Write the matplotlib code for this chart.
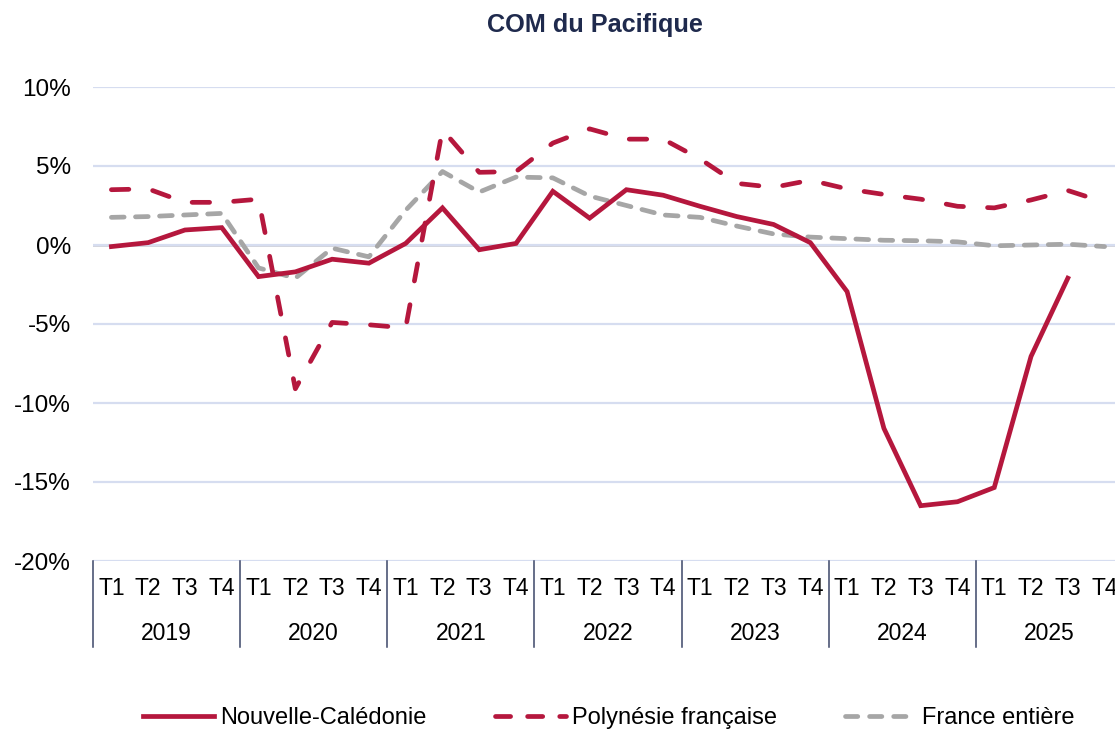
import numpy as np
import matplotlib.pyplot as plt
from matplotlib.lines import Line2D

plt.rcParams['font.family'] = ['Liberation Sans', 'DejaVu Sans']

''' Data '''
years = ['2019', '2020', '2021', '2022', '2023', '2024', '2025']
quarters = ['T1', 'T2', 'T3', 'T4']

nouvelle_caledonie = [
    -0.1, 0.15, 0.95, 1.1,
    -2.0, -1.7, -0.9, -1.15,
    0.1, 2.35, -0.3, 0.1,
    3.4, 1.7, 3.5, 3.15,
    2.45, 1.8, 1.3, 0.15,
    -2.95, -11.6, -16.5, -16.25,
    -15.35, -7.05, -2.1, np.nan]

polynesie = [
    3.5, 3.55, 2.7, 2.7,
    2.9, -9.1, -4.9, -5.05,
    -5.25, 7.3, 4.6, 4.65,
    6.45, 7.35, 6.7, 6.7,
    5.45, 3.9, 3.65, 4.1,
    3.55, 3.2, 2.9, 2.45,
    2.35, 2.85, 3.45, 2.7]

france = [
    1.75, 1.8, 1.9, 2.0,
    -1.45, -2.1, -0.2, -0.75,
    2.2, 4.65, 3.35, 4.3,
    4.25, 3.1, 2.5, 1.9,
    1.75, 1.2, 0.7, 0.5,
    0.4, 0.3, 0.27, 0.2,
    -0.05, 0.0, 0.05, -0.1]

''' Style '''
red = '#B5173D'
grey = '#A6A6A6'
navy = '#1F2A4D'
gridc = '#D6DDF0'
fs = 16.5

fig = plt.figure(figsize=(11.15, 7.29), dpi=100)
ax = fig.add_axes([93 / 1115, 1 - 561 / 729, 1030 / 1115, 474 / 729])

x = np.arange(len(years) * len(quarters))
lw = 3.4
ax.plot(x, nouvelle_caledonie, color=red, lw=lw, solid_joinstyle='miter',
        label='Nouvelle-Calédonie', zorder=4)
ax.plot(x, polynesie, color=red, lw=lw, dashes=(3.7, 5.1), dash_capstyle='round',
        label='Polynésie française', zorder=3)
ax.plot(x, france, color=grey, lw=lw, dashes=(2.7, 2.4), dash_capstyle='round',
        label='France entière', zorder=2)

ax.set_xlim(-0.5, len(x) - 0.5)
ax.set_ylim(-20, 10)
ax.set_yticks(np.arange(-20, 11, 5))
ax.set_yticklabels([f'{v}%' for v in range(-20, 11, 5)])
ax.grid(axis='y', color=gridc, lw=1.6, zorder=0)
ax.axhline(0, color=navy, lw=1.0, zorder=1)
for s in ax.spines.values():
    s.set_visible(False)
ax.tick_params(axis='y', length=0, labelsize=17.5, pad=16)
ax.set_xticks([])

''' Category axis '''
trans = ax.get_xaxis_transform()
for i, q in enumerate(quarters * len(years)):
    ax.text(i, -0.058, q, transform=trans, ha='center', va='center', fontsize=fs)
for j, yr in enumerate(years):
    ax.text(j * 4 + 1.5, -0.152, yr, transform=trans, ha='center', va='center', fontsize=fs)
for j in range(len(years) + 1):
    ax.plot([j * 4 - 0.5, j * 4 - 0.5], [0, -0.181], transform=trans,
            color='#3C4668', lw=1.1, clip_on=False)

''' Title and legend '''
fig.text(595 / 1115, 1 - 25 / 729, 'COM du Pacifique', ha='center', va='center',
         fontsize=18.2, fontweight='bold', color=navy)

handles = [
    Line2D([0], [0], color=red, lw=lw),
    Line2D([0], [0], color=red, lw=lw, dashes=(3.2, 3.6), dash_capstyle='round'),
    Line2D([0], [0], color=grey, lw=lw, dashes=(2.6, 2.5), dash_capstyle='round')]
fig.legend(handles, ['Nouvelle-Calédonie', 'Polynésie française', 'France entière'],
           loc='center', bbox_to_anchor=(609 / 1115, 1 - 718 / 729), ncol=3,
           frameon=False, fontsize=17, handlelength=3.0, handletextpad=0.25,
           columnspacing=2.9, borderpad=0)

plt.savefig('out.png', dpi=100)
